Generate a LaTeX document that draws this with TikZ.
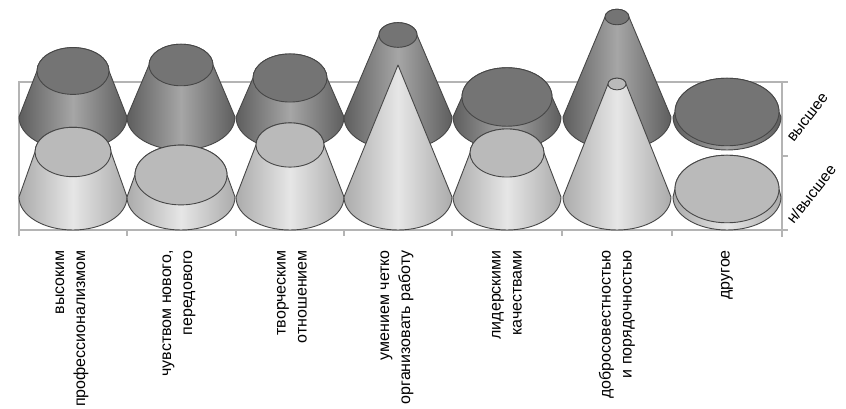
\documentclass[tikz,border=0pt]{standalone}
\usepackage{fontspec}
\setsansfont{Liberation Sans}
\usepackage{tikz}
\usetikzlibrary{positioning}
\definecolor{backedge}{HTML}{5E5E5E}
\definecolor{backmid}{HTML}{A6A6A6}
\definecolor{backtop}{HTML}{747474}
\definecolor{frontedge}{HTML}{ABABAB}
\definecolor{frontmid}{HTML}{E6E6E6}
\definecolor{fronttop}{HTML}{BABABA}
\definecolor{gridgray}{HTML}{B4B4B4}
\tikzset{
  rim/.style={draw=black!72, line width=0.9pt, line join=round},
  backrow/.style={left color=backedge, right color=backedge, middle color=backmid},
  frontrow/.style={left color=frontedge, right color=frontedge, middle color=frontmid},
  frameline/.style={draw=gridgray, line width=1.1pt},
  catlabel/.style={rotate=90, anchor=east, align=right, inner sep=0pt,
    font=\sffamily\fontsize{16}{21}\selectfont},
  rowlabel/.style={rotate=52, inner sep=0pt, font=\sffamily\fontsize{15.5}{19}\selectfont}}
% #1 x, #2 base y, #3 top y, #4 top radius, #5 side style, #6 top colour
\newcommand{\frustum}[6]{%
  \draw [rim, #5] (#1-54,#2) arc [start angle=180, end angle=360, x radius=54, y radius=33]
     -- (#1+#4,#3) arc [start angle=0, end angle=180, x radius=#4, y radius=0.65*#4] -- cycle;
  \draw [rim, fill=#6] (#1,#3) ellipse [x radius=#4, y radius=0.65*#4];}

\begin{document}
\begin{tikzpicture}[x=1pt, y=1pt]
  \useasboundingbox (0,0) rectangle (846,409);
    \coordinate (bl) at (19,179);
    \coordinate (br) at (782,179);
        \coordinate (tl) at (19,327);
           \coordinate (tr) at (782,327);
              \coordinate (m) at (782,253);
         \draw [frameline] (bl) -- (tl) -- (tr);
         \draw [frameline] (bl) -- (br);
         \draw [frameline] (tr) -- ([yshift=-7pt]br);
         \draw [frameline] (tr) -- ++(6,0);
         \draw [frameline] (m) -- ++(6,0);
         \draw [frameline] (br) -- ++(6,0);
    \foreach \t in {19,127,236,344,452,562,672}
         \draw [frameline] (\t,179) -- (\t,173);
% back row
    \frustum{73}{292}{338}{36}{backrow}{backtop}
    \frustum{181}{292}{344}{32}{backrow}{backtop}
    \frustum{290}{292}{331}{37}{backrow}{backtop}
    \frustum{398}{292}{374}{19}{backrow}{backtop}
    \frustum{507}{292}{312}{45}{backrow}{backtop}
    \frustum{617}{292}{392}{12}{backrow}{backtop}
    \frustum{727}{292}{297}{52}{backrow}{backtop}
% front row
    \frustum{73}{212}{257}{38}{frontrow}{fronttop}
    \frustum{181}{212}{234}{46}{frontrow}{fronttop}
    \frustum{290}{212}{264}{34}{frontrow}{fronttop}
         \coordinate (apex) at (398,344);
         \draw [rim, frontrow] (344,212) arc [start angle=180, end angle=360, x radius=54, y radius=33]
            -- (apex) -- cycle;
    \frustum{507}{212}{256}{37}{frontrow}{fronttop}
    \frustum{617}{212}{325}{9}{frontrow}{fronttop}
    \frustum{727}{212}{220}{52}{frontrow}{fronttop}
% labels
     \node [catlabel] (prof) at (72,159) {высоким\\профессионализмом};
     \node [catlabel] (novo) at (179,159) {чувством нового,\\передового};
     \node [catlabel] (tvor) at (292,159) {творческим\\отношением};
     \node [catlabel] (umen) at (397,159) {умением четко\\организовать работу};
     \node [catlabel] (lider) at (507,159) {лидерскими\\качествами};
     \node [catlabel] (dobr) at (617,159) {добросовестностью\\и порядочностью};
     \node [catlabel] (drug) at (727,159) {другое};
     \node [rowlabel] (vys) at (808,291) {высшее};
     \node [rowlabel] (nvys) at (811,215) {н/высшее};
\end{tikzpicture}
\end{document}
